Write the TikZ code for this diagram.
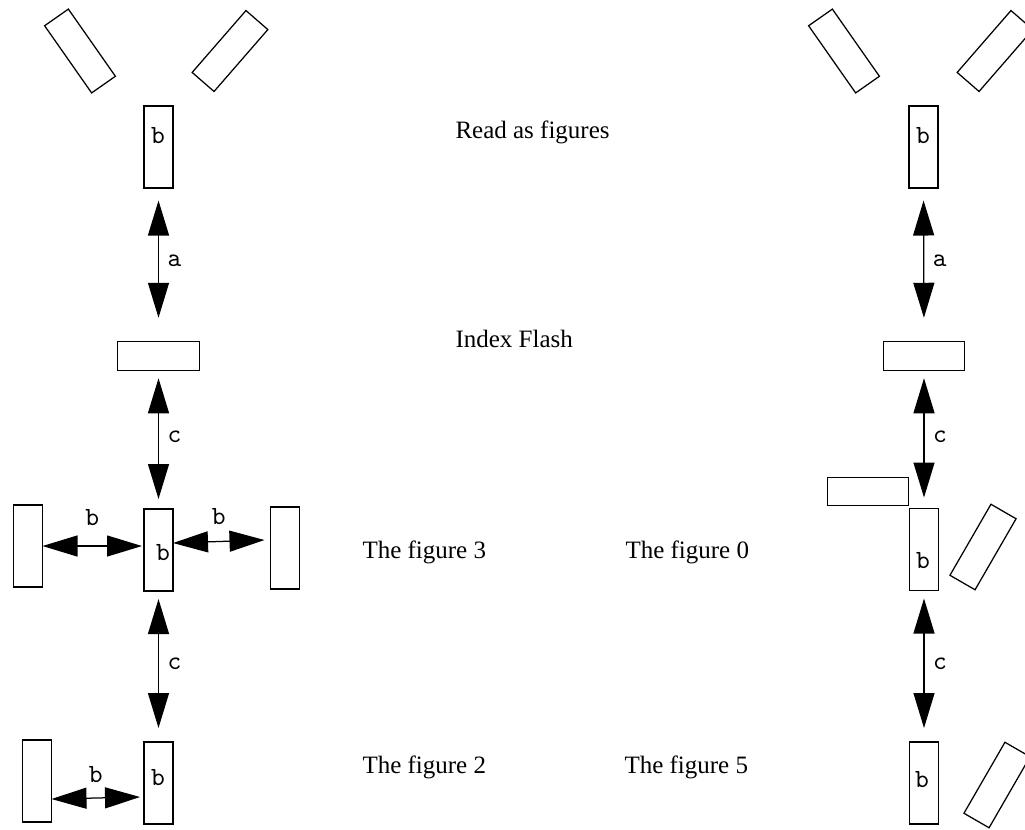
\documentclass[tikz,border=0pt]{standalone}
\usepackage{fontspec}
\setmainfont{Liberation Serif}
\usetikzlibrary{arrows.meta, positioning, calc}

\tikzset{
  bar/.style={draw, line width=0.5pt, minimum width=11.6pt, minimum height=32.8pt, inner sep=0pt, outer sep=0pt},
  flat/.style={bar, minimum width=32.6pt, minimum height=11.4pt},
  tag/.style={font=\ttfamily\fontsize{10.5}{12}\selectfont, inner sep=0pt, anchor=base},
  caption/.style={font=\fontsize{10}{12}\selectfont, inner sep=0pt, anchor=base west},
  link/.style={<->, line width=0.5pt},
}

\begin{document}
\begin{tikzpicture}[x=0.4pt, y=-0.4pt, >={Triangle[length=14pt, width=8.4pt]}]
    \useasboundingbox (0,0) rectangle (1025,829);

    % Left column
    \node[bar, rotate=35] (ltl) at (80,51) {};
    \node[bar, rotate=-41] (ltr) at (230,51) {};
    \node[bar] (lb1) at (158.5,147) {};
    \node[tag] (tb1) at (158,143) {b};
    \node[flat] (lh) at (158.5,356) {};
    \node[bar] (lb2) at (158.5,550) {};
    \node[tag] (tb2) at (163,560) {b};
    \node[bar] (lml) at (28,546) {};
    \node[bar] (lmr) at (285,548) {};
    \node[bar] (lb3) at (158.5,783) {};
    \node[tag] (tb3) at (158,785) {b};
    \node[bar] (lbl) at (37,781) {};

    % Arrows, left column
    \draw[link, shorten <=5pt, shorten >=9.6pt] (lb1.south) -- (lh.north) node[midway, tag, anchor=west, xshift=3.4pt, yshift=1.5pt] {a};
    \draw[link, shorten <=3.2pt, shorten >=4pt] (lh.south) -- (lb2.north) node[midway, tag, anchor=west, xshift=3.4pt, yshift=1pt] {c};
    \draw[link, shorten <=3.2pt, shorten >=5.6pt] (lb2.south) -- (lb3.north) node[midway, tag, anchor=west, xshift=3.4pt, yshift=1pt] {c};
    \draw[link] (lml.east) -- ([xshift=-0.8pt]lml.east -| lb2.west) node[midway, tag, anchor=south, yshift=8pt] {b};
    \draw[link] ([yshift=2.8pt]lb2.east) -- ([xshift=-2.4pt, yshift=3.2pt]lmr.west) node[midway, tag, anchor=south, yshift=6.6pt] {b};
    \draw[link] ([yshift=-7.2pt]lbl.east) -- ([xshift=-1.6pt, yshift=-5.6pt]lb3.west) node[midway, tag, anchor=south, yshift=6pt] {b};

    % Right column
    \node[bar, rotate=35] (rtl) at (844,51) {};
    \node[bar, rotate=-41] (rtr) at (995,51) {};
    \node[bar] (rb1) at (923.5,147) {};
    \node[tag] (ub1) at (923,143) {b};
    \node[flat] (rh) at (924,356) {};
    \node[flat] (rml) at (868,491.5) {};
    \node[bar] (rb2) at (924,549.5) {};
    \node[tag] (ub2) at (923,568) {b};
    \node[bar, rotate=-30] (rmr) at (983,547) {};
    \node[bar] (rb3) at (924,783) {};
    \node[tag] (ub3) at (922,787) {b};
    \node[bar, rotate=-30] (rbr) at (997,785) {};

    % Arrows, right column
    \draw[link, shorten <=5pt, shorten >=9.6pt] (rb1.south) -- (rh.north) node[midway, tag, anchor=west, xshift=3.4pt, yshift=1.5pt] {a};
    \draw[link, shorten <=3.2pt, shorten >=4.4pt] (rh.south) -- (rb2.north) node[midway, tag, anchor=west, xshift=3.4pt, yshift=1pt] {c};
    \draw[link, shorten <=3.2pt, shorten >=5.6pt] (rb2.south) -- (rb3.north) node[midway, tag, anchor=west, xshift=3.4pt, yshift=1pt] {c};

    % Captions
    \node[caption] (read) at (455,138) {Read as figures};
    \node[caption] (index) at (455,347) {Index Flash};
    \node[caption] (fig3) at (362,558) {The figure 3};
    \node[caption] (fig0) at (625,558) {The figure 0};
    \node[caption] (fig2) at (362,773) {The figure 2};
    \node[caption] (fig5) at (624,773) {The figure 5};
\end{tikzpicture}
\end{document}
